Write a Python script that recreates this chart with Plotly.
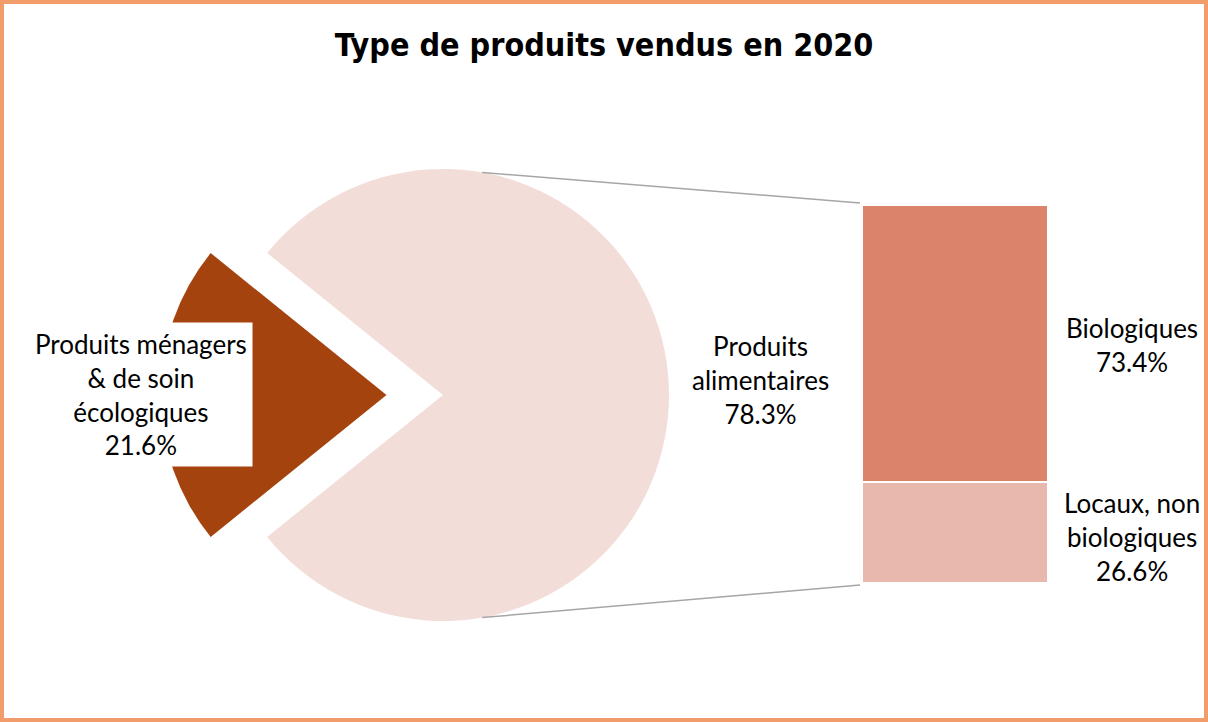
"""
Type de produits vendus en 2020 - secteur + barre empilée (pie of bar)
"""

import math
import plotly.graph_objects as go

# données
pie_labels = ["Produits ménagers<br>& de soin<br>écologiques", "Produits<br>alimentaires"]
pie_values = [21.6, 78.3]
bar_labels = ["Biologiques", "Locaux, non<br>biologiques"]
bar_values = [73.4, 26.6]

W, H = 1208, 722
FONT = "Lato"
LABEL_SIZE = 26

# géométrie du secteur (pixels)
cx, cy, r, pull = 443, 395, 226, 0.25
half = r * (1 + pull)
pie_dom_x = [(cx - half) / W, (cx + half) / W]
pie_dom_y = [(H - (cy + half)) / H, (H - (cy - half)) / H]

# barre (pixels)
bar_left, bar_right, bar_top, bar_bottom = 862, 1048, 205, 583
bar_dom_x = [bar_left / W, bar_right / W]
bar_dom_y = [(H - bar_bottom) / H, (H - bar_top) / H]

# rotation : la petite part centrée à 9 h
small_span = 360 * pie_values[0] / sum(pie_values)
rotation = 270 - small_span / 2

fig = go.Figure()

fig.add_trace(go.Pie(
    labels=pie_labels,
    values=pie_values,
    sort=False,
    direction="clockwise",
    rotation=rotation,
    pull=[pull, 0],
    marker=dict(colors=["#A5430F", "#F3DDD8"], line=dict(width=0)),
    textinfo="none",
    domain=dict(x=pie_dom_x, y=pie_dom_y),
    showlegend=False,
    hovertemplate="%{label}: %{value}%<extra></extra>",
))

# Biologiques en haut de la pile -> tracé en dernier
bar_colors = ["#DC836C", "#E8B8AF"]
for lab, val, col in reversed(list(zip(bar_labels, bar_values, bar_colors))):
    fig.add_trace(go.Bar(
        x=[0],
        y=[val],
        name=lab,
        width=1,
        marker=dict(color=col, line=dict(color="white", width=2)),
        xaxis="x2",
        yaxis="y2",
        showlegend=False,
        hovertemplate=lab + ": %{y}%<extra></extra>",
    ))

# étiquettes
label_font = dict(family=FONT, size=LABEL_SIZE, color="black")
fig.add_annotation(
    x=141 / W, y=(H - 394) / H, xref="paper", yref="paper",
    xanchor="center", yanchor="middle",
    text=f"{pie_labels[0]}<br>{pie_values[0]}%",
    showarrow=False, bgcolor="white", borderpad=5,
    font=label_font,
)
fig.add_annotation(
    x=760 / W, y=(H - 380) / H, xref="paper", yref="paper",
    xanchor="center", yanchor="middle",
    text=f"{pie_labels[1]}<br>{pie_values[1]}%",
    showarrow=False,
    font=label_font,
)
bar_label_y = [345, 537]
for lab, val, py in zip(bar_labels, bar_values, bar_label_y):
    fig.add_annotation(
        x=1132 / W, y=(H - py) / H, xref="paper", yref="paper",
        xanchor="center", yanchor="middle",
        text=f"{lab}<br>{val}%",
        showarrow=False,
        font=label_font,
    )

# lignes de liaison secteur -> barre
ang = math.radians(10)
top_pt = (cx + r * math.sin(ang), cy - r * math.cos(ang))
bot_pt = (cx + r * math.sin(ang), cy + r * math.cos(ang))
for (px, py), by in [(top_pt, bar_top - 2), (bot_pt, bar_bottom + 2)]:
    fig.add_shape(
        type="line", xref="paper", yref="paper",
        x0=px / W, y0=(H - py) / H, x1=(bar_left - 2) / W, y1=(H - by) / H,
        line=dict(color="#A6A6A6", width=1.5),
    )

# cadre
fig.add_shape(
    type="rect", xref="paper", yref="paper",
    x0=0, y0=0, x1=1, y1=1,
    line=dict(color="#F29B6B", width=8),
)

fig.update_layout(
    title=dict(
        text="<b>Type de produits vendus en 2020</b>",
        x=0.5, xanchor="center", y=(H - 45) / H, yanchor="middle",
        font=dict(family="DejaVu Sans Condensed", size=32, color="black"),
    ),
    width=W,
    height=H,
    margin=dict(l=0, r=0, t=0, b=0),
    paper_bgcolor="white",
    plot_bgcolor="white",
    barmode="stack",
    xaxis2=dict(domain=bar_dom_x, range=[-0.5, 0.5], visible=False, anchor="y2"),
    yaxis2=dict(domain=bar_dom_y, range=[0, 100], visible=False, anchor="x2"),
    xaxis=dict(visible=False),
    yaxis=dict(visible=False),
)

fig.write_html(
    "out.html",
    config={"displayModeBar": False},
    post_script="document.body.style.margin='0';",
)
